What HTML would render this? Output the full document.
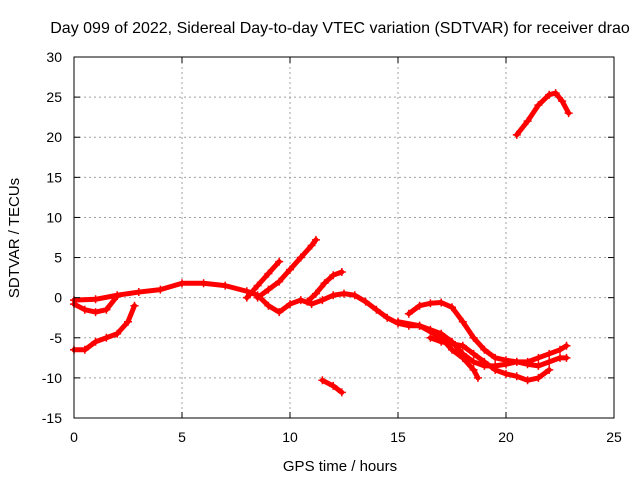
<!DOCTYPE html>
<html><head><meta charset="utf-8"><style>
body{margin:0;background:#fff}
svg{display:block;font-family:"Liberation Sans",sans-serif}
</style></head><body>
<svg id="chart" width="640" height="480" xmlns="http://www.w3.org/2000/svg">
<rect width="640" height="480" fill="#fff"/>
<text x="340" y="33" font-size="16" text-anchor="middle">Day 099 of 2022, Sidereal Day-to-day VTEC variation (SDTVAR) for receiver drao</text>
<g id="grid"></g>
<g id="series"></g>
<rect x="74" y="57" width="540" height="361" fill="none" stroke="#000"/>
<g id="ticks"></g>
<text x="340" y="471" font-size="15" text-anchor="middle">GPS time / hours</text>
<text transform="translate(19,238) rotate(-90)" font-size="15" text-anchor="middle">SDTVAR / TECUs</text>
</svg>
<script>
const xTicks=[0,5,10,15,20,25];
const yTicks=[-15,-10,-5,0,5,10,15,20,25,30];
const trackA=[[0,-0.3],[1,-0.2],[2,0.3],[3,0.7],[4,1.0],[5,1.8],[6,1.8],[7,1.5],[8,0.8],[8.5,0.3],[9,-1.0],[9.5,-1.8],[10,-0.8],[10.5,-0.3],[11,-0.8],[11.5,-0.3],[12,0.3],[12.5,0.5],[13,0.3],[13.5,-0.5],[14,-1.5],[14.5,-2.5],[15,-3.2],[15.5,-3.5],[16,-3.5],[16.5,-4],[17,-4.5],[17.5,-5.5],[18,-7],[18.5,-8],[19,-8.5],[19.5,-8.5],[20,-8.3],[20.5,-8],[21,-8.3],[21.5,-8.5],[22,-8],[22.5,-7.5],[22.8,-7.5]];
const trackB=[[0,-6.5],[0.5,-6.5],[1,-5.5],[1.5,-5],[2,-4.5],[2.5,-3],[2.8,-1]];
const trackC=[[0,-0.8],[0.5,-1.5],[1,-1.8],[1.5,-1.5],[2,0.2]];
const trackD=[[8,0],[8.5,1.5],[9,3],[9.5,4.5]];
const trackE=[[8.5,0],[9,1],[9.5,2],[10,3.5],[10.5,5],[11,6.5],[11.2,7.2]];
const trackF=[[10.8,-0.5],[11.2,0.5],[11.6,1.8],[12,2.8],[12.4,3.2]];
const trackG=[[11.5,-10.3],[12,-11],[12.4,-11.8]];
const trackH=[[15.5,-2],[16,-1],[16.5,-0.7],[17,-0.6],[17.5,-1.2],[18,-3],[18.5,-5],[19,-6.5],[19.5,-7.5],[20,-7.8],[20.5,-8],[21,-8],[21.5,-7.5],[22,-7],[22.5,-6.5],[22.8,-6]];
const trackI=[[15,-3],[16,-3.5],[17,-5],[17.5,-6.5],[18,-7.5],[18.5,-9],[18.7,-10]];
const trackJ=[[16.5,-5],[17,-5.5],[18,-6],[18.5,-7],[19,-8],[19.5,-9],[20,-9.5],[20.5,-9.8],[21,-10.3],[21.5,-10],[22,-9]];
const trackK=[[20.5,20.3],[21,22],[21.5,24],[22,25.3],[22.3,25.5],[22.6,24.5],[22.9,23]];
const tracks=[trackA,trackB,trackC,trackD,trackE,trackF,trackG,trackH,trackI,trackJ,trackK];
const X=v=>74+v/25*540, Y=v=>418-(v+15)/45*361;
const NS="http://www.w3.org/2000/svg";
function mk(t,a,p){const e=document.createElementNS(NS,t);for(const k in a)e.setAttribute(k,a[k]);p.appendChild(e);return e;}
const grid=document.getElementById('grid'),ticks=document.getElementById('ticks'),ser=document.getElementById('series');
xTicks.forEach(t=>{const x=X(t);
 if(t>0&&t<25){const g=mk('line',{x1:x,x2:x,y1:57,y2:418,stroke:'#a0a0a0','stroke-dasharray':'2,3'},grid);
 
 }
 mk('line',{x1:x,x2:x,y1:418,y2:412,stroke:'#000'},ticks);mk('line',{x1:x,x2:x,y1:57,y2:63,stroke:'#000'},ticks);
 const l=mk('text',{x:x,y:442,'font-size':14,'text-anchor':'middle'},ticks);l.textContent=t;
 
 });
yTicks.forEach(t=>{const y=Y(t);
 if(t>-15&&t<30){const g=mk('line',{x1:74,x2:614,y1:y,y2:y,stroke:'#a0a0a0','stroke-dasharray':'2,3'},grid);
 
 }
 mk('line',{x1:74,x2:80,y1:y,y2:y,stroke:'#000'},ticks);mk('line',{x1:614,x2:608,y1:y,y2:y,stroke:'#000'},ticks);
 const l=mk('text',{x:62,y:y+5,'font-size':14,'text-anchor':'end'},ticks);l.textContent=t;
 
 });
tracks.forEach((tr,i)=>{
 const pl=mk('polyline',{points:tr.map(p=>X(p[0])+','+Y(p[1])).join(' '),fill:'none',stroke:'#f00','stroke-width':5,'stroke-linejoin':'round','stroke-linecap':'round'},ser);
 
 
 tr.forEach(p=>{const x=X(p[0]),y=Y(p[1]);
  const m=mk('path',{d:`M${x-4},${y}H${x+4}M${x},${y-4}V${y+4}`,stroke:'#f00','stroke-width':1.5},ser);
  
  });
});
</script>
</body></html>
